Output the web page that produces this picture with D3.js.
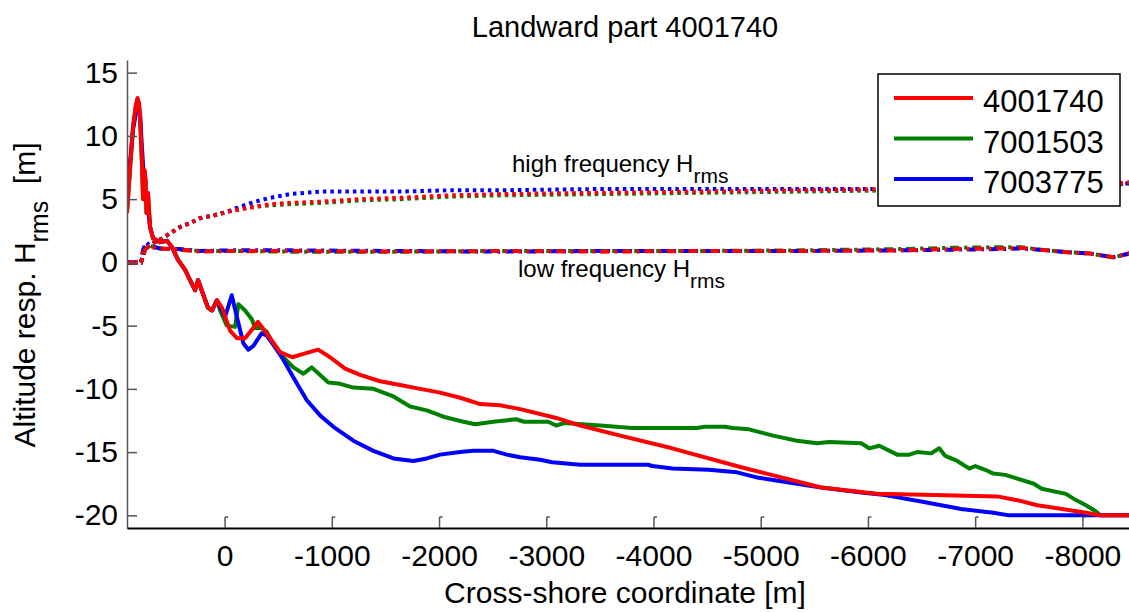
<!DOCTYPE html>
<html lang="en">
<head>
<meta charset="UTF-8">
<script src="https://d3js.org/d3.v7.min.js"></script>
<title>Landward part 4001740</title>
<style>
  body { margin: 0; background: #fff; }
  svg text { font-family: "Liberation Sans", Arial, sans-serif; fill: #000; }
</style>
</head>
<body>
<svg id="chart" width="1129" height="612"></svg>
<script>
// profiles: [cross-shore coordinate (m), altitude (m)]
const bed4001740 = [
  [910,3.9],[881,7.5],[854,10.7],[830,12.3],[812,13.0],[798,12.6],[788,11.5],[770,7.8],[760,5.0],
  [746,7.3],[737,6.5],[728,3.9],[714,5.5],[695,2.8],[667,1.9],[602,1.6],[536,1.7],[490,1.2],
  [434,0.2],[368,-0.6],[322,-1.4],[275,-2.2],[247,-1.4],[201,-2.5],[154,-3.6],[117,-3.8],[70,-3.0],
  [23,-3.6],[-51,-5.4],[-117,-6.0],[-191,-6.0],[-312,-4.7],[-425,-6.0],[-518,-7.1],[-630,-7.5],
  [-751,-7.2],[-872,-6.9],[-984,-7.5],[-1124,-8.4],[-1264,-8.9],[-1450,-9.4],[-1637,-9.7],
  [-1824,-10.0],[-2010,-10.3],[-2197,-10.7],[-2383,-11.2],[-2570,-11.3],[-2757,-11.6],
  [-3093,-12.3],[-3317,-12.9],[-3690,-13.7],[-4174,-14.7],[-4818,-16.2],[-5564,-17.8],
  [-6087,-18.3],[-6609,-18.4],[-7206,-18.5],[-7393,-18.8],[-7579,-19.2],[-7812,-19.5],
  [-8036,-19.8],[-8167,-20.0],[-8500,-20.0]
];
const bed7001503 = [
  [910,4.0],[881,7.4],[854,10.6],[830,12.2],[812,12.9],[798,12.5],[788,11.4],[770,7.7],[760,5.0],
  [746,7.2],[737,6.4],[728,3.9],[714,5.4],[695,2.8],[667,1.9],[602,1.6],[536,1.7],[490,1.2],
  [434,0.2],[368,-0.6],[322,-1.4],[275,-2.2],[247,-1.4],[201,-2.5],[154,-3.6],[117,-3.8],[70,-3.0],
  [42,-3.8],[-21,-5.0],[-98,-5.1],[-129,-3.3],[-191,-3.8],[-254,-4.5],[-285,-5.2],[-331,-5.1],
  [-394,-5.5],[-471,-6.7],[-548,-7.5],[-642,-8.3],[-735,-8.8],[-813,-8.3],[-891,-8.9],[-968,-9.5],
  [-1077,-9.6],[-1201,-9.9],[-1388,-10.0],[-1575,-10.6],[-1730,-11.4],[-1886,-11.7],[-2041,-12.2],
  [-2228,-12.6],[-2337,-12.8],[-2507,-12.6],[-2719,-12.4],[-2794,-12.6],[-3018,-12.6],[-3093,-12.9],
  [-3167,-12.7],[-3503,-12.9],[-3801,-13.1],[-4403,-13.1],[-4478,-13.0],[-4665,-13.0],[-4741,-13.1],
  [-4890,-13.2],[-5115,-13.7],[-5338,-14.1],[-5526,-14.3],[-5639,-14.2],[-5937,-14.3],[-6012,-14.7],
  [-6105,-14.5],[-6273,-15.2],[-6385,-15.2],[-6460,-15.0],[-6590,-15.1],[-6665,-14.7],[-6721,-15.3],
  [-6833,-15.7],[-6945,-16.3],[-7001,-16.1],[-7094,-16.4],[-7169,-16.7],[-7281,-16.8],[-7393,-17.1],
  [-7547,-17.5],[-7621,-17.9],[-7846,-18.3],[-7921,-18.7],[-8033,-19.2],[-8127,-19.7],[-8167,-20.0],
  [-8500,-20.0]
];
const bed7003775 = [
  [910,5.3],[881,8.0],[854,10.5],[826,11.8],[807,12.0],[788,11.8],[770,9.0],[751,6.5],[732,5.0],
  [714,4.2],[695,2.8],[667,1.9],[602,1.6],[536,1.7],[490,1.2],[434,0.2],[368,-0.6],[322,-1.4],
  [275,-2.2],[247,-1.4],[201,-2.5],[154,-3.6],[117,-3.8],[73,-3.0],[-5,-4.3],[-67,-2.6],[-114,-4.3],
  [-175,-6.4],[-222,-6.9],[-269,-6.6],[-347,-5.6],[-394,-5.8],[-471,-6.7],[-548,-7.7],[-642,-9.1],
  [-767,-10.9],[-891,-12.1],[-1015,-13.0],[-1201,-14.1],[-1388,-14.9],[-1575,-15.5],[-1761,-15.7],
  [-1886,-15.5],[-2010,-15.2],[-2197,-15.0],[-2321,-14.9],[-2507,-14.9],[-2632,-15.2],[-2757,-15.4],
  [-2943,-15.6],[-3055,-15.8],[-3317,-16.0],[-3951,-16.0],[-3988,-16.1],[-4179,-16.3],[-4516,-16.4],
  [-4778,-16.6],[-4964,-17.0],[-5189,-17.3],[-5563,-17.8],[-5937,-18.2],[-6161,-18.4],[-6497,-18.9],
  [-6870,-19.5],[-7169,-19.8],[-7318,-20.0],[-8500,-20.0]
];

// high frequency Hrms (dotted)
const hfX     = [910,779,742,695,602,508,415,322,229,107,-23,-145,-285,-424,-611,-891,-1264,-1637,-2103,-2570,-3503,-4436,-5368,-6301,-7234,-7794,-8167,-8500];
const hfRed   = [0,0,1.0,1.4,1.8,2.3,2.8,3.1,3.5,3.7,4.0,4.2,4.4,4.6,4.7,4.8,5.0,5.1,5.3,5.4,5.5,5.6,5.7,5.8,5.9,6.0,6.1,6.4];
const hfGreen = [0,0,1.0,1.4,1.8,2.3,2.8,3.1,3.5,3.7,4.0,4.2,4.4,4.5,4.6,4.7,4.9,5.0,5.2,5.3,5.4,5.5,5.6,5.7,5.8,5.9,6.0,6.3];
const hfBlue  = [0,0,1.0,1.4,1.8,2.3,2.8,3.1,3.5,3.7,4.0,4.4,4.8,5.1,5.4,5.6,5.6,5.6,5.7,5.7,5.8,5.8,5.8,5.8,5.9,6.0,6.1,6.3];

// low frequency Hrms (dash-dot)
const lfX     = [910,779,760,732,695,602,415,229,-51,-611,-1637,-2570,-3503,-4436,-5368,-6301,-6767,-7234,-7430,-7607,-7859,-8074,-8288,-8437,-8500];
const lfRed   = [0,0,0.8,1.1,1.2,1.1,1.0,0.85,0.9,0.9,0.85,0.9,0.85,0.9,0.9,0.95,1.05,1.1,1.15,1.0,0.8,0.7,0.4,0.7,0.7];
const lfGreen = [0,0,0.9,1.3,1.3,1.1,1.0,0.9,0.9,0.85,0.85,0.9,0.9,0.9,0.95,1.05,1.15,1.2,1.2,1.0,0.8,0.7,0.4,0.7,0.7];
const lfBlue  = [0,0,1.0,1.6,1.3,1.1,1.05,0.9,0.95,0.95,0.9,0.85,0.9,0.9,0.9,0.95,1.0,1.05,1.1,1.0,0.8,0.7,0.4,0.7,0.7];

const seriesNames = ['4001740', '7001503', '7003775'];
const seriesColors = ['#ff0000', '#008000', '#0000ff'];
const xTicks = [0, -1000, -2000, -3000, -4000, -5000, -6000, -7000, -8000];
const yTicks = [15, 10, 5, 0, -5, -10, -15, -20];

const svg = d3.select('#chart');
const plot = {left: 127, right: 1136, top: 60, bottom: 528};

const x = d3.scaleLinear().domain([910, -8500]).range([plot.left, plot.right]);
const y = d3.scaleLinear().domain([-21, 16]).range([plot.bottom, plot.top]);

svg.append('defs').append('clipPath').attr('id', 'clip')
  .append('rect')
  .attr('x', plot.left).attr('y', plot.top)
  .attr('width', plot.right - plot.left).attr('height', plot.bottom - plot.top);

const line = d3.line().x(d => x(d[0])).y(d => y(d[1]));
const zip = (xs, ys) => xs.map((v, i) => [v, ys[i]]);

const lines = svg.append('g').attr('clip-path', 'url(#clip)');

// draw order: green, blue, red (red ends on top)
const order = [1, 2, 0];
const lfSets = [lfRed, lfGreen, lfBlue];
const hfSets = [hfRed, hfGreen, hfBlue];
const beds = [bed4001740, bed7001503, bed7003775];

order.forEach(i => {
  lines.append('path')
    .attr('d', line(zip(lfX, lfSets[i])))
    .attr('fill', 'none').attr('stroke', seriesColors[i])
    .attr('stroke-width', 4).attr('stroke-dasharray', '9,5,3,5');
});
order.forEach(i => {
  lines.append('path')
    .attr('d', line(zip(hfX, hfSets[i])))
    .attr('fill', 'none').attr('stroke', seriesColors[i])
    .attr('stroke-width', 4).attr('stroke-dasharray', '3.5,4');
});
order.forEach(i => {
  lines.append('path')
    .attr('d', line(beds[i]))
    .attr('fill', 'none').attr('stroke', seriesColors[i])
    .attr('stroke-width', 4).attr('stroke-linejoin', 'round');
});

// axes
const yAxis = svg.append('g')
  .attr('transform', `translate(${plot.left},0)`)
  .call(d3.axisLeft(y).tickValues(yTicks).tickSizeInner(-10).tickSizeOuter(0).tickPadding(9)
    .tickFormat(d => String(d)));
yAxis.select('.domain').attr('stroke', '#555').attr('stroke-width', 1.5);
yAxis.selectAll('.tick line').attr('stroke', '#555').attr('stroke-width', 1.5);
yAxis.selectAll('.tick text').style('font-size', '30px');

const xAxis = svg.append('g')
  .attr('transform', `translate(0,${plot.bottom})`)
  .call(d3.axisBottom(x).tickValues(xTicks).tickSizeInner(-11).tickSizeOuter(0).tickPadding(17)
    .tickFormat(d => String(d)));
xAxis.select('.domain').attr('stroke', '#000').attr('stroke-width', 2);
xAxis.selectAll('.tick line').attr('stroke', '#555').attr('stroke-width', 1.5);
xAxis.selectAll('.tick').append('line')
  .attr('x1', 0).attr('x2', 3).attr('y1', -11).attr('y2', -11)
  .attr('stroke', '#555').attr('stroke-width', 1.5);
xAxis.selectAll('.tick text').style('font-size', '30px');

// titles
svg.append('text')
  .attr('x', 625).attr('y', 37).attr('text-anchor', 'middle')
  .style('font-size', '29px')
  .text('Landward part 4001740');

svg.append('text')
  .attr('x', 625).attr('y', 603).attr('text-anchor', 'middle')
  .style('font-size', '30px')
  .text('Cross-shore coordinate [m]');

const yLabel = svg.append('text')
  .attr('transform', 'translate(35,295) rotate(-90)')
  .attr('text-anchor', 'middle')
  .style('font-size', '30px');
yLabel.append('tspan').text('Altitude resp. H');
yLabel.append('tspan').attr('dy', 13).style('font-size', '25px').text('rms');
yLabel.append('tspan').attr('dy', -13).text('\u00a0\u00a0[m]');

// annotations
const hfLabel = svg.append('text').attr('x', 512).attr('y', 172).style('font-size', '24px');
hfLabel.append('tspan').text('high frequency H');
hfLabel.append('tspan').attr('dy', 11).style('font-size', '21px').text('rms');

const lfLabel = svg.append('text').attr('x', 518).attr('y', 277).style('font-size', '24px');
lfLabel.append('tspan').text('low frequency H');
lfLabel.append('tspan').attr('dy', 11).style('font-size', '21px').text('rms');

// legend
const legend = svg.append('g');
legend.append('rect')
  .attr('x', 878).attr('y', 74).attr('width', 242).attr('height', 132)
  .attr('fill', '#fff').attr('stroke', '#000').attr('stroke-width', 1.5);
const legendY = d3.scalePoint().domain(seriesNames).range([98, 179]);
seriesNames.forEach((name, i) => {
  legend.append('line')
    .attr('x1', 894).attr('x2', 973)
    .attr('y1', legendY(name)).attr('y2', legendY(name))
    .attr('stroke', seriesColors[i]).attr('stroke-width', 4);
  legend.append('text')
    .attr('x', 983).attr('y', legendY(name) + 14)
    .style('font-size', '31px')
    .text(name);
});
</script>
</body>
</html>
